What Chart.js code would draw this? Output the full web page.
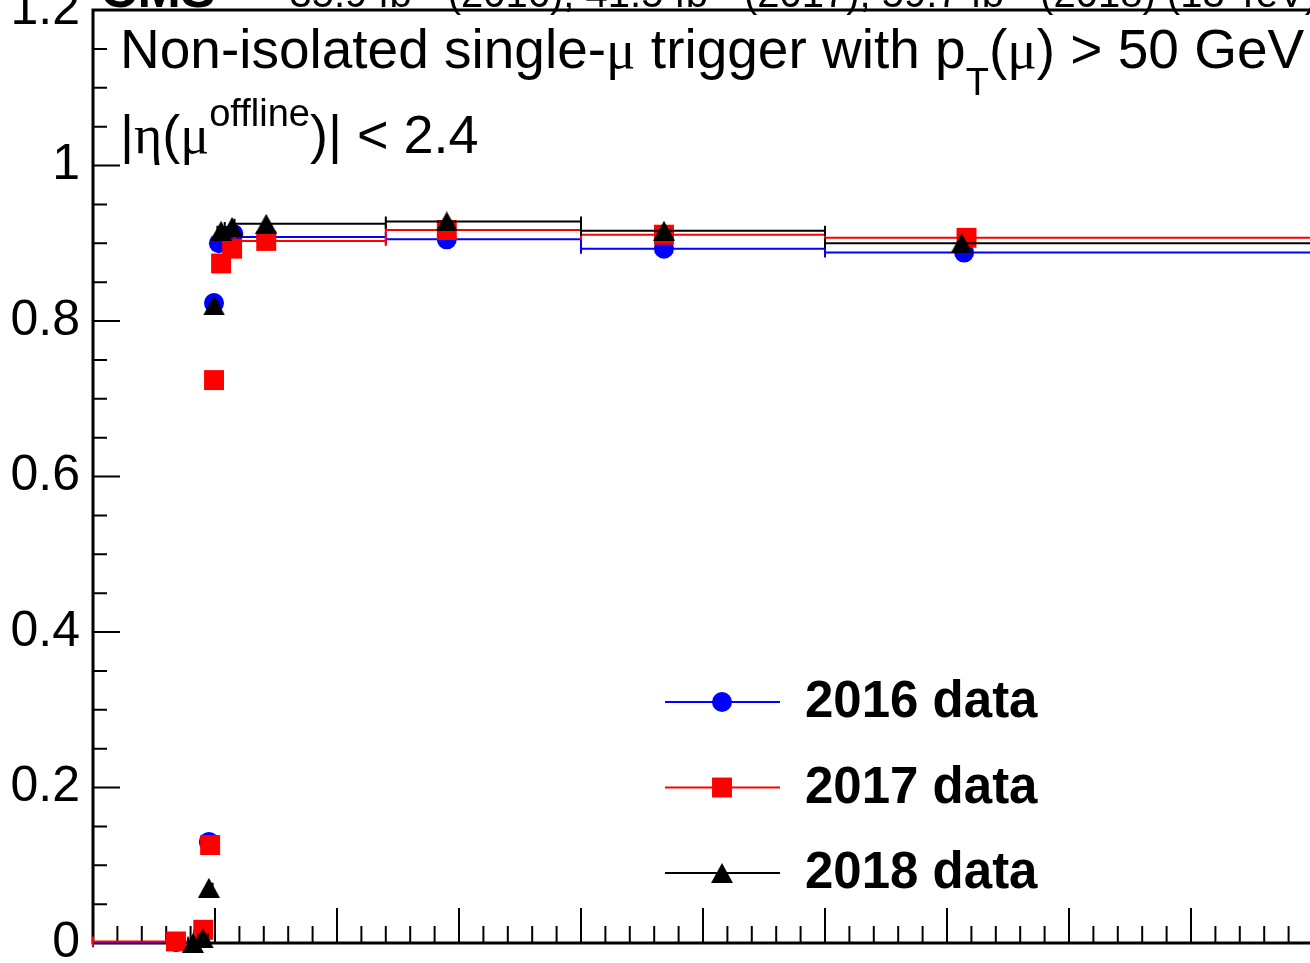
<!DOCTYPE html>
<html>
<head>
<meta charset="utf-8">
<script src="https://cdn.jsdelivr.net/npm/chart.js@4.4.1/dist/chart.umd.min.js"></script>
<style>
  html, body { margin: 0; padding: 0; overflow: hidden; background: #fff; width: 1310px; height: 963px; }
  /* the reference is a crop of a bigger ROOT canvas: header, right frame
     and x labels fall outside the window, so the canvas is larger and shifted */
  #wrap { position: absolute; left: 0; top: -60px; width: 1400px; height: 1100px; }
</style>
</head>
<body>
<div id="wrap"><canvas id="c" width="1400" height="1100"></canvas></div>
<script>
// ── data ─────────────────────────────────────────────
const series = ["2016 data", "2017 data", "2018 data"];
const colors = ["#0000ff", "#ff0000", "#000000"];

// mean offline muon pT in the bin [GeV], efficiency, bin edges
const pt2016  = [34, 45, 47.5, 49.6, 51.6, 57.5, 71, 145, 234, 357];
const eff2016 = [0.001, 0.012, 0.130, 0.823, 0.900, 0.912, 0.908, 0.905, 0.893, 0.888];
const lo2016  = [0, 43, 47, 49, 51, 54, 58, 120, 200, 300];
const hi2016  = [39, 47, 49, 51, 54, 58, 120, 200, 300, 500];

const pt2017  = [34, 45.2, 48, 49.6, 52.5, 57, 71, 145, 234, 358];
const eff2017 = [0.002, 0.017, 0.126, 0.724, 0.874, 0.893, 0.903, 0.917, 0.911, 0.907];
const lo2017  = [0, 43, 47, 49, 51, 54, 58, 120, 200, 300];
const hi2017  = [39, 47, 49, 51, 54, 58, 120, 200, 300, 500];

const pt2018  = [41, 45, 47.5, 49.6, 52.5, 57, 71, 145, 234, 356];
const eff2018 = [0.000, 0.006, 0.071, 0.820, 0.916, 0.921, 0.925, 0.928, 0.916, 0.900];
const lo2018  = [39, 43, 47, 49, 51, 54, 58, 120, 200, 300];
const hi2018  = [43, 47, 49, 51, 54, 58, 120, 200, 300, 500];

const xMajorTicks = [0, 50, 100, 150, 200, 250, 300, 350, 400, 450, 500];
const yMajorTicks = [0, 0.2, 0.4, 0.6, 0.8, 1.0, 1.2];
const yTickLabels = ["0", "0.2", "0.4", "0.6", "0.8", "1", "1.2"];

// legend rows sit at these efficiency levels
const legendRows = [0.31, 0.20, 0.09];

const FONT = "'Liberation Sans', Arial, Helvetica, sans-serif";
const GREEK = "'Liberation Serif', 'Times New Roman', serif";

function points(pt, eff, lo, hi) {
  return pt.map((x, i) => ({ x, y: eff[i], xlo: lo[i], xhi: hi[i] }));
}

// ROOT-like full triangle: centred on its bounding box
function triangleMarker(w, h, color) {
  const c = document.createElement("canvas");
  c.width = w; c.height = h;
  const g = c.getContext("2d");
  g.fillStyle = color;
  g.beginPath();
  g.moveTo(0, h); g.lineTo(w, h); g.lineTo(w / 2, 0);
  g.closePath();
  g.fill();
  return c;
}

const datasets = [
  { label: series[0], data: points(pt2016, eff2016, lo2016, hi2016), pointStyle: "circle", pointRadius: 10, order: 3 },
  { label: series[1], data: points(pt2017, eff2017, lo2017, hi2017), pointStyle: "rect", pointRadius: 14.1, order: 2 },
  { label: series[2], data: points(pt2018, eff2018, lo2018, hi2018), pointStyle: triangleMarker(22, 20, colors[2]), pointRadius: 10, order: 1 },
].map((d, i) => ({
  ...d,
  borderColor: colors[i],
  backgroundColor: colors[i],
  pointBackgroundColor: colors[i],
  pointBorderWidth: 0,
  showLine: false,
  clip: false,
}));

// ── plugins ──────────────────────────────────────────
// frame + ROOT style inward ticks, drawn under the markers
const frame = {
  id: "frame",
  beforeDatasetsDraw(chart) {
    const { ctx, chartArea: a, scales: { x, y } } = chart;
    ctx.save();
    ctx.strokeStyle = "#000";
    ctx.lineWidth = 2;
    ctx.beginPath();
    xMajorTicks.forEach((v, i) => {
      const px = x.getPixelForValue(v);
      ctx.moveTo(px, a.bottom); ctx.lineTo(px, a.bottom - 35);
      if (i < xMajorTicks.length - 1) {
        const step = (xMajorTicks[i + 1] - v) / 5;
        for (let k = 1; k < 5; k++) {
          const m = x.getPixelForValue(v + k * step);
          ctx.moveTo(m, a.bottom); ctx.lineTo(m, a.bottom - 17);
        }
      }
    });
    yMajorTicks.forEach((v, i) => {
      const py = y.getPixelForValue(v);
      ctx.moveTo(a.left, py); ctx.lineTo(a.left + 27, py);
      if (i < yMajorTicks.length - 1) {
        const step = (yMajorTicks[i + 1] - v) / 4;
        for (let k = 1; k < 4; k++) {
          const m = y.getPixelForValue(v + k * step);
          ctx.moveTo(a.left, m); ctx.lineTo(a.left + 14, m);
        }
      }
    });
    ctx.stroke();
    ctx.lineWidth = 3;
    ctx.strokeRect(a.left, a.top, a.right - a.left, a.bottom - a.top);
    ctx.restore();
  },
};

// horizontal error bars (bin widths) with small end caps
const errorBars = {
  id: "errorBars",
  beforeDatasetDraw(chart, args) {
    const ds = chart.data.datasets[args.index];
    const { ctx, scales: { x, y } } = chart;
    ctx.save();
    ctx.strokeStyle = ds.borderColor;
    ctx.lineWidth = 2;
    ctx.beginPath();
    ds.data.forEach((p) => {
      const py = y.getPixelForValue(p.y);
      const x0 = x.getPixelForValue(p.xlo);
      const x1 = x.getPixelForValue(p.xhi);
      ctx.moveTo(x0, py); ctx.lineTo(x1, py);
      ctx.moveTo(x0, py - 5); ctx.lineTo(x0, py + 5);
      ctx.moveTo(x1, py - 5); ctx.lineTo(x1, py + 5);
    });
    ctx.stroke();
    ctx.restore();
  },
};

// draws a run of text pieces, each with its own font and baseline shift
function drawRich(ctx, x, y, pieces) {
  let cx = x;
  pieces.forEach(([text, font, dy]) => {
    ctx.font = font;
    ctx.fillText(text, cx, y + (dy || 0));
    cx += ctx.measureText(text).width;
  });
  return cx;
}

const labels = {
  id: "labels",
  afterDraw(chart) {
    const { ctx, chartArea: a } = chart;
    ctx.save();
    ctx.fillStyle = "#000";
    ctx.textBaseline = "alphabetic";
    ctx.textAlign = "left";

    // header (mostly outside the visible window)
    const hy = a.top - 3;
    ctx.font = `bold 52px ${FONT}`;
    ctx.fillText("CMS", 100, hy);
    const big = `40px ${FONT}`, sup = `28px ${FONT}`;
    const lumi = [
      ["35.9 fb", big], ["-1", sup, -18], [" (2016), 41.5 fb", big], ["-1", sup, -18],
      [" (2017), 59.7 fb", big], ["-1", sup, -18], [" (2018) (13 TeV)", big],
    ];
    let w = 0;
    lumi.forEach(([t, f]) => { ctx.font = f; w += ctx.measureText(t).width; });
    drawRich(ctx, 1318 - w, hy, lumi);

    // selection text
    const txt = `55px ${FONT}`, small = `38px ${FONT}`, gr = `55px ${GREEK}`;
    drawRich(ctx, a.left + 27, a.top + 58, [
      ["Non-isolated single-", txt], ["\u03bc", gr], [" trigger with p", txt],
      ["T", small, 27], ["(", txt], ["\u03bc", gr], [") > 50 GeV", txt],
    ]);
    const t2 = `54px ${FONT}`, g2 = `54px ${GREEK}`;
    drawRich(ctx, a.left + 27, a.top + 143, [
      ["|", t2], ["\u03b7", g2], ["(", t2], ["\u03bc", g2],
      ["offline", small, -27], [")| < 2.4", t2],
    ]);

    // legend
    const { drawPoint } = Chart.helpers;
    chart.data.datasets.forEach((ds, i) => {
      const yv = chart.scales.y.getPixelForValue(legendRows[i]);
      ctx.strokeStyle = ds.borderColor;
      ctx.lineWidth = 2;
      ctx.beginPath();
      ctx.moveTo(665, yv); ctx.lineTo(780, yv);
      ctx.stroke();
      ctx.fillStyle = ds.backgroundColor;
      drawPoint(ctx, { pointStyle: ds.pointStyle, radius: ds.pointRadius, borderWidth: 0, rotation: 0 }, 722, yv);
      ctx.fillStyle = "#000";
      ctx.font = `bold 51px ${FONT}`;
      ctx.textBaseline = "middle";
      ctx.fillText(ds.label, 805, yv + 1);
      ctx.textBaseline = "alphabetic";
    });
    ctx.restore();
  },
};

// ── chart ────────────────────────────────────────────
new Chart(document.getElementById("c"), {
  type: "scatter",
  data: { datasets },
  options: {
    responsive: false,
    animation: false,
    events: [],
    layout: { padding: { left: 0, right: 87, top: 70, bottom: 0 } },
    scales: {
      x: {
        type: "linear",
        min: xMajorTicks[0],
        max: xMajorTicks[xMajorTicks.length - 1],
        grid: { display: false, drawTicks: false },
        border: { display: false },
        ticks: { display: false },
        afterFit: (s) => { s.height = 97; },
      },
      y: {
        type: "linear",
        min: yMajorTicks[0],
        max: yMajorTicks[yMajorTicks.length - 1],
        grid: { display: false, drawTicks: false },
        border: { display: false },
        afterBuildTicks: (s) => { s.ticks = yMajorTicks.map((v) => ({ value: v })); },
        ticks: {
          padding: 13,
          color: "#000",
          font: { family: FONT, size: 50 },
          callback: (v, i) => yTickLabels[i],
        },
        afterFit: (s) => { s.width = 93; },
      },
    },
    plugins: { legend: { display: false }, tooltip: { enabled: false } },
  },
  plugins: [frame, errorBars, labels],
});
</script>
</body>
</html>
